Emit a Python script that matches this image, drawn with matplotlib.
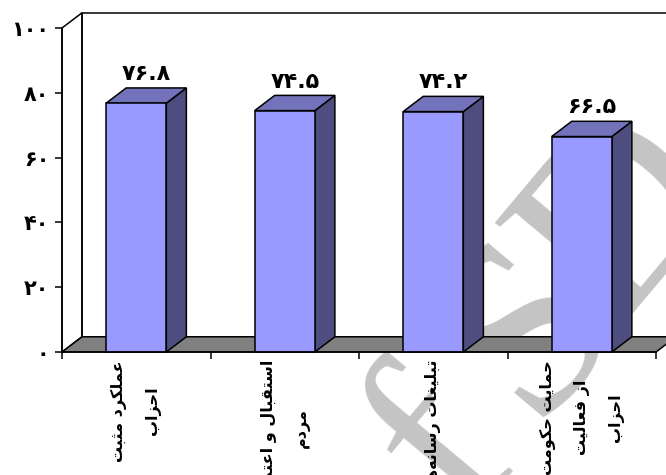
import matplotlib
matplotlib.use("Agg")
import matplotlib.pyplot as plt
from matplotlib.patches import Polygon, Rectangle
import matplotlib.transforms as mtransforms

# ---------------- data ----------------
categories = [
    "عملکرد مثبت\nاحزاب",
    "استقبال و اعتماد\nمردم",
    "تبلیغات رسانه‌ها",
    "حمایت حکومت\nاز فعالیت\nاحزاب",
]
values = [76.8, 74.5, 74.2, 66.5]
y_ticks = [0, 20, 40, 60, 80, 100]
y_tick_labels = ["۰", "۲۰", "۴۰", "۶۰", "۸۰", "۱۰۰"]

# ---------------- simple Persian shaping ----------------
# char: (isolated, final, initial, medial) ; None for initial/medial => right-joining only
FORMS = {
    "ا": ("\uFE8D", "\uFE8E", None, None),
    "ب": ("\uFE8F", "\uFE90", "\uFE91", "\uFE92"),
    "ت": ("\uFE95", "\uFE96", "\uFE97", "\uFE98"),
    "ث": ("\uFE99", "\uFE9A", "\uFE9B", "\uFE9C"),
    "ح": ("\uFEA1", "\uFEA2", "\uFEA3", "\uFEA4"),
    "د": ("\uFEA9", "\uFEAA", None, None),
    "ر": ("\uFEAD", "\uFEAE", None, None),
    "ز": ("\uFEAF", "\uFEB0", None, None),
    "س": ("\uFEB1", "\uFEB2", "\uFEB3", "\uFEB4"),
    "ع": ("\uFEC9", "\uFECA", "\uFECB", "\uFECC"),
    "غ": ("\uFECD", "\uFECE", "\uFECF", "\uFED0"),
    "ف": ("\uFED1", "\uFED2", "\uFED3", "\uFED4"),
    "ق": ("\uFED5", "\uFED6", "\uFED7", "\uFED8"),
    "ل": ("\uFEDD", "\uFEDE", "\uFEDF", "\uFEE0"),
    "م": ("\uFEE1", "\uFEE2", "\uFEE3", "\uFEE4"),
    "ن": ("\uFEE5", "\uFEE6", "\uFEE7", "\uFEE8"),
    "ه": ("\uFEE9", "\uFEEA", "\uFEEB", "\uFEEC"),
    "و": ("\uFEED", "\uFEEE", None, None),
    "ک": ("\uFB8E", "\uFB8F", "\uFB90", "\uFB91"),
    "ی": ("\uFBFC", "\uFBFD", "\uFBFE", "\uFBFF"),
}


def shape_line(s):
    chars = list(s)
    out = []
    for i, c in enumerate(chars):
        if c not in FORMS:
            if c != "\u200c":
                out.append(c)
            continue
        iso, fin, ini, med = FORMS[c]
        prev = chars[i - 1] if i > 0 else None
        nxt = chars[i + 1] if i + 1 < len(chars) else None
        join_prev = prev in FORMS and FORMS[prev][2] is not None
        join_next = nxt in FORMS and ini is not None
        if join_prev and join_next:
            out.append(med)
        elif join_prev:
            out.append(fin)
        elif join_next:
            out.append(ini)
        else:
            out.append(iso)
    return "".join(out[::-1])


def shape(s):
    return "\n".join(shape_line(l) for l in s.split("\n"))


def to_fa(s):
    return s.translate(str.maketrans("0123456789", "۰۱۲۳۴۵۶۷۸۹"))


# ---------------- figure ----------------
W_PX, H_PX = 666, 475
fig = plt.figure(figsize=(W_PX / 100, H_PX / 100), dpi=100)
fig.patch.set_facecolor("white")

# watermark letters (behind the chart), positions in figure pixels
for ch, (px, py) in zip("fSD", [(445, 450), (530, 330), (625, 220)]):
    fig.text(px / W_PX, 1 - py / H_PX, ch, rotation=50, rotation_mode="anchor", fontsize=180,
             color="#c4c4c4", family="Liberation Serif", ha="center", va="center", zorder=-5)

ax = fig.add_axes([62 / W_PX, 123 / H_PX, 594 / W_PX, 324 / H_PX])
ax.patch.set_visible(False)
ax.set_xlim(-0.5, 3.5)
ax.set_ylim(0, 100)

DX, DY = 0.135, 4.7
BAR_W = 0.405
EDGE = "black"
LW = 1.1
C_FRONT, C_TOP, C_SIDE = "#9999ff", "#7373bb", "#4d4d80"
n = len(values)
x_lo, x_hi = -0.5, n - 0.5

# walls and floor
ax.add_patch(Polygon([(x_lo + DX, DY), (x_lo + DX, 100 + DY), (x_hi + DX, 100 + DY), (x_hi + DX, DY)],
                     closed=True, fill=False, edgecolor=EDGE, lw=LW, clip_on=False, zorder=1))
ax.add_patch(Polygon([(x_lo, 0), (x_lo, 100), (x_lo + DX, 100 + DY), (x_lo + DX, DY)],
                     closed=True, fill=False, edgecolor=EDGE, lw=LW, clip_on=False, zorder=1))
ax.add_patch(Polygon([(x_lo, 0), (x_hi, 0), (x_hi + DX, DY), (x_lo + DX, DY)],
                     closed=True, facecolor="#808080", edgecolor=EDGE, lw=LW, clip_on=False, zorder=2))

# bars
for i, v in enumerate(values):
    x0, x1 = i - BAR_W / 2, i + BAR_W / 2
    ax.add_patch(Polygon([(x1, 0), (x1 + DX, DY), (x1 + DX, v + DY), (x1, v)], closed=True,
                         facecolor=C_SIDE, edgecolor=EDGE, lw=LW, clip_on=False, zorder=3))
    ax.add_patch(Polygon([(x0, v), (x1, v), (x1 + DX, v + DY), (x0 + DX, v + DY)], closed=True,
                         facecolor=C_TOP, edgecolor=EDGE, lw=LW, clip_on=False, zorder=3))
    ax.add_patch(Rectangle((x0, 0), BAR_W, v, facecolor=C_FRONT, edgecolor=EDGE, lw=LW,
                           clip_on=False, zorder=4))
    ax.text(i + DX / 2, v + DY + 1.2, to_fa(f"{v:.1f}"), ha="center", va="bottom",
            fontsize=16, fontweight="bold", family="DejaVu Sans", zorder=5)

# axes styling
for s in ["top", "right"]:
    ax.spines[s].set_visible(False)
for s in ["left", "bottom"]:
    ax.spines[s].set_linewidth(LW)
    ax.spines[s].set_zorder(6)
ax.set_yticks(y_ticks)
ax.set_yticklabels(y_tick_labels, fontsize=15, fontweight="bold", family="DejaVu Sans")
ax.tick_params(axis="y", direction="out", length=5, width=LW, pad=4)
ax.set_xticks([x_lo + k for k in range(n + 1)])
ax.set_xticklabels([])
ax.tick_params(axis="x", direction="out", length=5, width=LW)

# category labels (rotated)
trans = mtransforms.offset_copy(ax.get_xaxis_transform(), fig=fig, x=0, y=-8, units="dots")
for i, c in enumerate(categories):
    ax.text(i, 0, shape(c), transform=trans, rotation=90, ha="center", va="top",
            multialignment="center", linespacing=2.5, fontsize=11.5, fontweight="bold",
            family="DejaVu Sans", clip_on=False)

fig.savefig("out.png", dpi=100)
